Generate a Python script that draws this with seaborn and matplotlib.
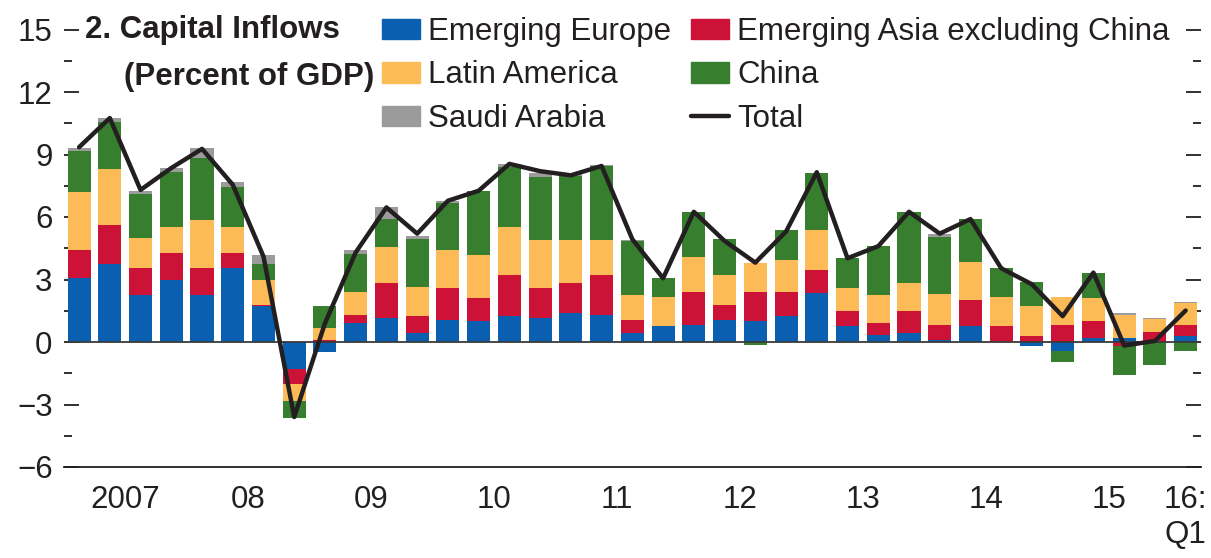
import numpy as np
import matplotlib
matplotlib.use("Agg")
import matplotlib.pyplot as plt
from matplotlib import font_manager
from matplotlib.patches import Patch
from matplotlib.lines import Line2D
from matplotlib.ticker import MultipleLocator, FixedLocator, NullFormatter, FixedFormatter
import seaborn as sns

# Quarterly data, 2007:Q1 - 2016:Q1 (percent of GDP)
europe = [3.05, 3.76, 2.27, 2.97, 2.27, 3.54, 1.72, -1.28, -0.5, 0.92, 1.16, 0.43, 1.08, 1.0, 1.24, 1.16,
          1.4, 1.32, 0.43, 0.76, 0.84, 1.08, 1.0, 1.24, 2.33, 0.76, 0.36, 0.43, 0.1, 0.76, 0.0, -0.2,
          -0.45, 0.19, 0.17, -0.05, 0.27]
asia_ex_china = [1.35, 1.85, 1.27, 1.29, 1.27, 0.72, 0.08, -0.74, 0.1, 0.4, 1.65, 0.81, 1.49, 1.12, 1.97, 1.43,
                 1.41, 1.89, 0.65, 0.0, 1.57, 0.69, 1.41, 1.17, 1.13, 0.72, 0.56, 1.05, 0.74, 1.25, 0.76, 0.27,
                 0.84, 0.81, -0.2, 0.5, 0.57]
latin_america = [2.78, 2.7, 1.43, 1.27, 2.31, 1.27, 1.17, -0.8, 0.57, 1.09, 1.75, 1.41, 1.85, 2.06, 2.32, 2.29,
                 2.07, 1.67, 1.17, 1.41, 1.67, 1.44, 1.4, 1.53, 1.91, 1.11, 1.33, 1.33, 1.47, 1.83, 1.41, 1.45,
                 1.33, 1.12, 1.15, 0.59, 1.04]
china = [2.0, 2.25, 2.13, 2.62, 2.99, 1.89, 0.79, -0.84, 1.05, 1.8, 1.34, 2.28, 2.25, 3.08, 2.86, 3.06,
         3.1, 3.55, 2.6, 0.89, 2.14, 1.72, -0.12, 1.43, 2.74, 1.43, 2.36, 3.44, 2.74, 2.06, 1.37, 1.16,
         -0.51, 1.21, -1.4, -1.04, -0.41]
saudi = [0.11, 0.2, 0.16, 0.21, 0.46, 0.24, 0.42, 0.0, 0.0, 0.19, 0.56, 0.16, 0.11, 0.0, 0.16, 0.16,
         0.08, 0.05, 0.05, 0.0, 0.0, 0.0, 0.0, 0.0, 0.0, 0.0, 0.0, 0.0, 0.13, 0.0, 0.0, 0.0,
         0.0, 0.0, 0.05, 0.06, 0.05]
total = [9.35, 10.75, 7.3, 8.35, 9.27, 7.55, 4.1, -3.6, 0.9, 4.3, 6.46, 5.2, 6.78, 7.26, 8.55, 8.2,
         8.0, 8.45, 4.93, 3.06, 6.25, 4.85, 3.81, 5.3, 8.15, 4.02, 4.6, 6.25, 5.2, 5.9, 3.54, 2.77,
         1.24, 3.33, -0.17, 0.05, 1.51]
year_labels = ["2007", "08", "09", "10", "11", "12", "13", "14", "15", "16:\nQ1"]

series = [("Emerging Europe", europe, "#0A5FB0"),
          ("Emerging Asia excluding China", asia_ex_china, "#CC1236"),
          ("Latin America", latin_america, "#FDBB58"),
          ("China", china, "#377F2E"),
          ("Saudi Arabia", saudi, "#9B9B9B")]

sns.set_theme(style="white")
names = {f.name for f in font_manager.fontManager.ttflist}
fam = next((n for n in ["Liberation Sans Narrow", "Liberation Sans"] if n in names), "DejaVu Sans")
plt.rcParams["font.family"] = [fam, "DejaVu Sans"]
plt.rcParams["text.color"] = "#231F20"
fs = 22.5

fig = plt.figure(figsize=(12.11, 5.58), dpi=100)
ax = fig.add_axes([63.7 / 1211, 1 - 467 / 558, (1201 - 63.7) / 1211, (467 - 29.5) / 558])

x = np.arange(len(total))
pos_base = np.zeros(len(x))
neg_base = np.zeros(len(x))
for name, vals, color in series:
    v = np.array(vals)
    bottom = np.where(v >= 0, pos_base, neg_base)
    ax.bar(x, v, width=0.75, bottom=bottom, color=color, linewidth=0)
    pos_base += np.clip(v, 0, None)
    neg_base += np.clip(v, None, 0)

ax.axhline(0, color="#3a3a3a", lw=1.3, zorder=3)
sns.lineplot(x=x, y=total, ax=ax, color="#231F20", lw=3.2, zorder=4)

ax.set_xlim(-0.5, 36.5)
ax.set_ylim(-6, 15)
for s in ["top", "left", "right"]:
    ax.spines[s].set_visible(False)
ax.spines["bottom"].set_color("#231F20")
ax.spines["bottom"].set_linewidth(1.3)

# y axis: inward ticks on both sides
ax.yaxis.set_major_locator(MultipleLocator(3))
ax.yaxis.set_minor_locator(FixedLocator(np.arange(-4.5, 15, 3)))
ax.tick_params(axis="y", which="both", direction="in", left=True, right=True, colors="#231F20",
               labelsize=fs, pad=8)
ax.tick_params(axis="y", which="major", length=11, width=1.3)
ax.tick_params(axis="y", which="minor", length=5.5, width=1.3)

# x axis: year separators as major ticks, year labels as minor ticks
ax.xaxis.set_major_locator(FixedLocator(np.arange(3.5, 36, 4)))
ax.xaxis.set_major_formatter(NullFormatter())
centers = list(np.arange(1.5, 36, 4)) + [36]
ax.xaxis.set_minor_locator(FixedLocator(centers))
ax.xaxis.set_minor_formatter(FixedFormatter(year_labels))
ax.tick_params(axis="x", which="major", direction="in", length=10, width=1.3, color="#231F20")
ax.tick_params(axis="x", which="minor", length=0, labelsize=fs, pad=13, colors="#231F20")
ax.set_xlabel("")
ax.set_ylabel("")

fig.text(85 / 1211, 1 - 38 / 558, "2. Capital Inflows", fontsize=fs, weight="bold", va="baseline")
fig.text(124 / 1211, 1 - 85 / 558, "(Percent of GDP)", fontsize=fs, weight="bold", va="baseline")

handles = [Patch(color=series[0][2]), Patch(color=series[2][2]), Patch(color=series[4][2]),
           Patch(color=series[1][2]), Patch(color=series[3][2]), Line2D([], [], color="#231F20", lw=3.2)]
labels = [series[0][0], series[2][0], series[4][0], series[1][0], series[3][0], "Total"]
fig.legend(handles, labels, ncol=2, loc="upper left", bbox_to_anchor=(382 / 1211, 1 - 17 / 558),
           frameon=False, fontsize=fs, handlelength=1.22, handleheight=0.64, handletextpad=0.26,
           columnspacing=0.62, labelspacing=0.43, borderaxespad=0, borderpad=0)

fig.savefig("out.png", dpi=100)
